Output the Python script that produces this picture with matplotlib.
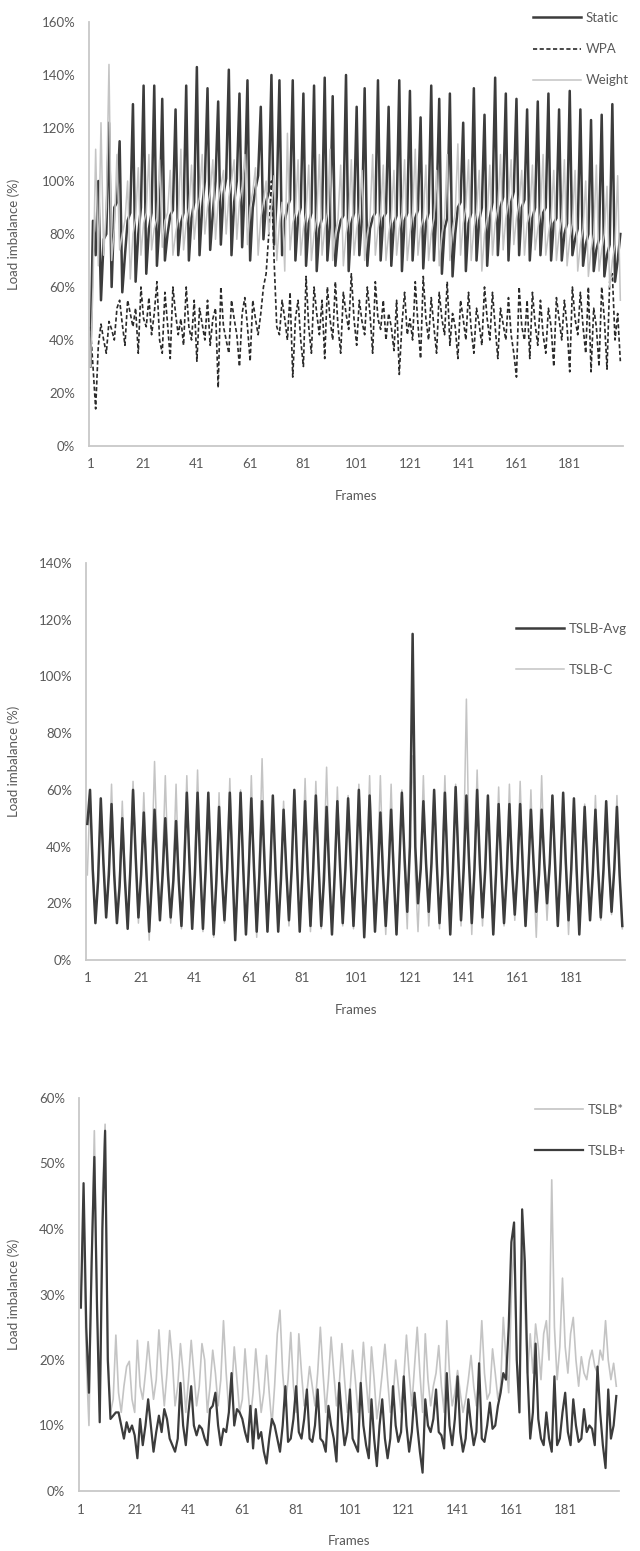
import numpy as np
import matplotlib
matplotlib.use("Agg")
import matplotlib.pyplot as plt
import matplotlib.transforms as mtransforms
from matplotlib.ticker import FuncFormatter

plt.rcParams['font.family'] = ['Lato', 'DejaVu Sans']

# ---- panel 1: Static / WPA / Weight (load imbalance in %) ----
static = [30, 85, 72, 100, 55, 78, 80, 122, 60, 90, 92, 115, 58, 72, 85, 88, 129, 62, 80, 90,
          136, 65, 82, 88, 136, 68, 85, 131, 70, 80, 87, 89, 127, 72, 84, 88, 136, 70, 86, 92,
          143, 72, 90, 100, 135, 74, 88, 100, 130, 76, 95, 101, 142, 72, 92, 100, 133, 75, 98, 138,
          70, 90, 97, 102, 128, 78, 92, 96, 140, 76, 94, 138, 72, 85, 90, 93, 138, 70, 86, 90,
          133, 68, 84, 88, 136, 66, 82, 86, 139, 70, 84, 132, 68, 80, 85, 87, 140, 66, 84, 88,
          128, 72, 86, 135, 68, 82, 86, 88, 138, 70, 86, 88, 128, 68, 84, 87, 138, 66, 85, 88,
          134, 70, 86, 89, 124, 67, 84, 88, 136, 70, 90, 131, 65, 82, 86, 133, 64, 80, 90, 92,
          122, 66, 84, 88, 135, 70, 85, 90, 125, 68, 86, 92, 139, 72, 90, 94, 133, 70, 92, 96,
          131, 72, 90, 93, 127, 70, 86, 90, 130, 72, 88, 90, 133, 70, 84, 86, 127, 70, 80, 84,
          134, 72, 78, 82, 127, 68, 76, 80, 123, 66, 74, 78, 125, 64, 72, 76, 129, 62, 70, 80]

wpa = [45, 30, 14, 38, 46, 40, 35, 47, 44, 40, 52, 55, 46, 38, 55, 50, 45, 52, 35, 60,
       48, 45, 56, 42, 50, 62, 40, 35, 58, 46, 33, 60, 50, 42, 48, 38, 60, 45, 40, 55,
       32, 52, 46, 40, 55, 38, 48, 52, 22, 60, 45, 40, 35, 55, 48, 42, 30, 50, 56, 45,
       32, 55, 48, 42, 50, 60, 65, 80, 100, 70, 45, 42, 55, 48, 40, 58, 26, 48, 55, 40,
       30, 64, 45, 35, 60, 50, 42, 55, 33, 60, 48, 40, 62, 45, 35, 58, 50, 44, 65, 48,
       38, 55, 47, 42, 60, 50, 35, 62, 48, 44, 55, 40, 50, 45, 36, 55, 27, 46, 58, 42,
       48, 40, 62, 46, 33, 64, 48, 40, 56, 45, 35, 58, 48, 42, 62, 38, 50, 45, 33, 55,
       48, 40, 58, 44, 35, 52, 46, 38, 60, 48, 40, 58, 45, 33, 52, 46, 40, 56, 42, 35,
       26, 60, 45, 40, 55, 33, 58, 46, 38, 55, 42, 35, 52, 45, 30, 56, 48, 40, 55, 45,
       28, 60, 48, 42, 58, 45, 35, 60, 28, 52, 45, 30, 60, 48, 29, 62, 65, 40, 50, 32]

weight = [30, 60, 112, 68, 122, 72, 90, 144, 70, 82, 110, 74, 80, 85, 100, 63, 80, 86, 105, 72,
          84, 88, 110, 74, 82, 86, 108, 75, 85, 88, 104, 72, 80, 86, 112, 74, 84, 90, 106, 78,
          88, 94, 110, 80, 90, 96, 108, 78, 92, 98, 104, 80, 94, 100, 108, 78, 92, 98, 110, 76,
          90, 96, 105, 72, 86, 92, 100, 80, 90, 102, 70, 84, 92, 66, 118, 74, 84, 88, 108, 72,
          82, 88, 106, 70, 80, 86, 110, 72, 82, 88, 112, 70, 80, 86, 106, 68, 80, 86, 108, 72,
          82, 88, 104, 70, 80, 86, 110, 72, 82, 88, 106, 70, 80, 86, 104, 72, 82, 88, 108, 70,
          80, 88, 112, 72, 82, 86, 106, 70, 80, 86, 104, 68, 80, 86, 110, 70, 82, 88, 114, 72,
          84, 90, 108, 70, 82, 88, 104, 66, 80, 86, 106, 72, 84, 90, 110, 74, 86, 92, 108, 76,
          86, 92, 104, 72, 84, 88, 106, 74, 82, 88, 110, 72, 80, 86, 104, 70, 80, 86, 108, 68,
          78, 84, 104, 66, 76, 82, 100, 64, 74, 80, 106, 66, 74, 80, 98, 60, 70, 76, 102, 55]

# ---- panel 2: TSLB-Avg / TSLB-C ----
tslb_avg = [48, 60, 32, 13, 28, 57, 34, 15, 30, 55, 30, 13, 26, 50, 28, 11, 32, 60, 36, 15,
            30, 52, 30, 10, 28, 53, 32, 14, 30, 50, 30, 15, 28, 49, 28, 12, 32, 59, 34, 11,
            30, 59, 33, 11, 32, 59, 32, 9, 28, 54, 31, 14, 32, 59, 32, 7, 30, 59, 32, 9,
            30, 57, 32, 10, 30, 56, 32, 10, 30, 58, 32, 10, 28, 53, 32, 14, 32, 60, 34, 10,
            30, 56, 32, 12, 32, 58, 34, 12, 28, 54, 30, 9, 30, 56, 33, 13, 32, 57, 34, 12,
            32, 60, 34, 8, 30, 58, 34, 10, 28, 52, 30, 12, 30, 53, 30, 9, 32, 59, 36, 17,
            40, 115, 40, 20, 32, 56, 34, 17, 34, 60, 34, 13, 30, 59, 32, 9, 32, 61, 36, 14,
            32, 58, 34, 13, 32, 60, 34, 15, 32, 58, 32, 9, 30, 55, 32, 13, 30, 55, 32, 16,
            32, 55, 32, 12, 30, 53, 34, 17, 30, 53, 34, 20, 34, 58, 34, 12, 32, 59, 34, 14,
            32, 57, 32, 9, 30, 54, 32, 14, 30, 53, 32, 15, 32, 56, 34, 17, 32, 54, 30, 12]

tslb_c = [30, 58, 36, 14, 30, 56, 34, 16, 34, 62, 32, 14, 30, 56, 30, 12, 34, 63, 36, 13,
          32, 59, 32, 7, 36, 70, 38, 14, 34, 65, 34, 13, 32, 62, 30, 11, 34, 65, 36, 12,
          34, 67, 34, 10, 30, 57, 32, 8, 30, 59, 32, 13, 34, 64, 34, 8, 30, 60, 34, 9,
          34, 65, 34, 8, 36, 71, 36, 10, 30, 56, 30, 11, 30, 56, 30, 12, 32, 58, 34, 12,
          34, 64, 34, 10, 34, 63, 36, 11, 36, 68, 34, 11, 32, 61, 34, 12, 32, 58, 32, 11,
          32, 62, 34, 11, 34, 65, 34, 10, 34, 65, 32, 9, 32, 62, 32, 9, 32, 60, 32, 11,
          45, 72, 30, 10, 34, 65, 34, 12, 32, 60, 34, 11, 34, 65, 34, 9, 32, 62, 38, 12,
          40, 92, 38, 9, 34, 67, 34, 12, 32, 58, 32, 9, 32, 61, 32, 12, 32, 62, 34, 14,
          34, 63, 34, 12, 32, 60, 30, 8, 34, 65, 34, 14, 32, 58, 32, 12, 32, 58, 32, 9,
          30, 55, 30, 11, 30, 55, 32, 14, 32, 58, 32, 14, 30, 55, 32, 16, 32, 58, 30, 11]

# ---- panel 3: TSLB* / TSLB+ ----
tslb_star = [30, 40, 20, 10, 35, 55, 30, 12, 45, 56, 22, 12, 14, 23.8, 15, 12, 16, 19, 19.8, 14,
             12, 23, 16, 14, 18, 22.8, 18, 14, 17, 24.6, 18, 13, 18, 24.5, 20, 13, 16, 22.5, 18, 12,
             17, 23, 18, 13, 16, 22.5, 20, 12, 16, 21.5, 18, 13, 17, 26, 18, 12, 15, 22, 17, 12,
             14, 21.7, 16, 11, 15, 21.7, 17, 12, 15, 20.7, 15, 10, 16, 24, 27.6, 18, 13, 17, 24.2, 16,
             12, 24, 18, 13, 15, 19, 16, 13, 18, 25, 18, 12, 17, 23.5, 18, 13, 16, 22.5, 17, 12,
             15, 21.5, 17, 12, 16, 22.7, 17, 12, 22, 17, 11, 14, 18, 22.4, 17, 12, 14, 20, 16, 12,
             17, 23.8, 18, 13, 19, 25, 18, 12, 24, 17, 13, 16, 18, 22.2, 16, 12, 26, 18, 13, 15,
             18.4, 15, 12, 14, 17, 20.7, 16, 13, 18, 26, 18, 14, 15, 21.7, 18, 14, 16, 26.5, 20, 15,
             30, 38, 20, 16, 40, 28, 18, 24, 18, 25.5, 22, 17, 24, 26, 20, 47.5, 25, 17, 22, 32.5,
             22, 18, 24, 26.5, 20, 16, 20.5, 18, 17, 20, 21.5, 19, 18, 21.5, 20, 26, 20, 17, 19.5, 16]

tslb_plus = [28, 47, 25, 15, 35, 51, 28, 10.5, 40, 55, 20, 11, 11.5, 12, 12, 10, 8, 10.5, 9, 10,
             8.5, 5, 11, 7, 10, 14, 10, 6, 9, 11.5, 9, 12.5, 11, 8, 7, 6, 8, 16.5, 10, 7,
             12, 16, 10, 8.5, 10, 9.5, 8, 7, 12.5, 13, 15, 10, 7, 9.5, 9, 12, 18, 10, 12.5, 12,
             11, 9, 7.5, 13, 6.5, 12.5, 8, 9, 6, 4.2, 8, 11, 10, 8, 6, 10, 16, 7.5, 8, 11,
             16, 9, 8, 11, 15.5, 8, 7.5, 10, 15.5, 8, 7.5, 6, 13, 10, 8, 4.5, 16.5, 11, 7, 9,
             15.5, 8, 7, 6, 16.5, 10, 7, 5, 14, 8, 3.8, 10, 14, 8, 5, 8, 16, 10, 7.5, 9,
             17.5, 10, 6, 9, 15, 10, 6, 2.8, 14, 10, 9, 11, 15.5, 9, 8.5, 6.5, 18, 10, 7, 11,
             17.5, 9, 6, 8, 14, 10, 7, 9, 19.5, 8, 7.5, 10, 13.5, 9.5, 10, 13, 15, 18, 17, 25,
             38, 41, 20, 12, 43, 35, 18, 8, 12, 22.5, 11, 8, 7, 12, 8, 6, 17.5, 7, 8, 12,
             15, 9, 7, 14, 10, 7.5, 8, 12.5, 9, 10, 9.5, 7, 19, 12, 7, 3.5, 15.5, 8, 10, 14.5]

x_ticks = list(range(1, 182, 20))

W, H = 640, 1551
fig = plt.figure(figsize=(W / 100, H / 100), dpi=100)
GRAY = '#595959'


def make_axes(left, right, top, bottom):
    return fig.add_axes([left / W, (H - bottom) / H, (right - left) / W, (bottom - top) / H])


def style(ax, ymax, ystep, bottom_px, xmin):
    ax.set_xlim(xmin, 201)
    ax.set_ylim(0, ymax)
    ax.set_yticks(np.arange(0, ymax + 0.1, ystep))
    ax.yaxis.set_major_formatter(FuncFormatter(lambda v, p: f"{v:.0f}%"))
    ax.set_xticks(x_ticks)
    for s in ['top', 'right']:
        ax.spines[s].set_visible(False)
    for s in ['left', 'bottom']:
        ax.spines[s].set_color('#c8c8c8')
        ax.spines[s].set_linewidth(1.3)
    ax.tick_params(axis='both', length=0, labelcolor=GRAY, labelsize=9.5)
    ax.tick_params(axis='y', pad=10)
    ax.tick_params(axis='x', pad=9)
    ax.set_ylabel('Load imbalance (%)', color=GRAY, fontsize=9.5)
    ax.yaxis.set_label_coords(20 / W, 0.5,
                              transform=mtransforms.blended_transform_factory(fig.transFigure, ax.transAxes))
    ax.set_xlabel('Frames', color=GRAY, fontsize=9.5)
    ax.xaxis.set_label_coords(0.5, (H - bottom_px - 44) / H,
                              transform=mtransforms.blended_transform_factory(ax.transAxes, fig.transFigure))


frames = np.arange(1, 201)

# panel 1
ax1 = make_axes(89, 623, 22, 446)
ax1.plot(frames, static, color='#3c3c3c', lw=1.8, label='Static')
ax1.plot(frames, wpa, color='#2a2a2a', lw=1.2, ls=(0, (2.5, 1.5)), label='WPA')
ax1.plot(frames, weight, color='#c4c4c4', lw=1.1, label='Weight')
style(ax1, 160, 20, 446, 0.5)
ax1.legend(loc='upper left', bbox_to_anchor=(533 / W, 1 - 12 / H), bbox_transform=fig.transFigure,
           frameon=False, fontsize=9.5, labelcolor=GRAY, handlelength=3.6, handletextpad=0.4,
           labelspacing=1.45, borderpad=0, borderaxespad=0)

# panel 2
ax2 = make_axes(86, 625, 563, 960)
ax2.plot(frames, tslb_c, color='#c4c4c4', lw=1.1, zorder=2)
ax2.plot(frames, tslb_avg, color='#3c3c3c', lw=1.8, zorder=3)
h_avg, = ax2.plot([], [], color='#3c3c3c', lw=1.8, label='TSLB-Avg')
h_c, = ax2.plot([], [], color='#c4c4c4', lw=1.1, label='TSLB-C')
style(ax2, 140, 20, 960, 0.5)
ax2.legend(handles=[h_avg, h_c], loc='upper left', bbox_to_anchor=(516 / W, 1 - 623 / H),
           bbox_transform=fig.transFigure, frameon=False, fontsize=9.5, labelcolor=GRAY,
           handlelength=3.6, handletextpad=0.4, labelspacing=2.2, borderpad=0, borderaxespad=0)

# panel 3
ax3 = make_axes(79, 619, 1098, 1491)
ax3.plot(frames, tslb_star, color='#c4c4c4', lw=1.2, label='TSLB*')
ax3.plot(frames, tslb_plus, color='#3c3c3c', lw=1.6, label='TSLB+')
style(ax3, 60, 10, 1491, 0.3)
ax3.legend(loc='upper left', bbox_to_anchor=(535 / W, 1 - 1104 / H), bbox_transform=fig.transFigure,
           frameon=False, fontsize=9.5, labelcolor=GRAY, handlelength=3.6, handletextpad=0.4,
           labelspacing=2.2, borderpad=0, borderaxespad=0)

fig.savefig('out.png', dpi=100)
